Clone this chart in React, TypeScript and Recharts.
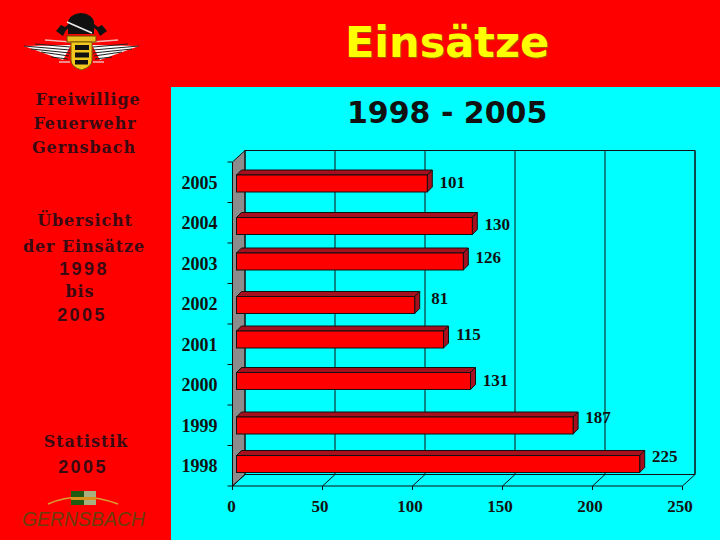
import React from 'react'
import { BarChart, Bar, XAxis, YAxis, LabelList, usePlotArea } from 'recharts'

// Bars and printed numbers differ in the source slide (2005, 2002), so both are kept
const YEARS = ['2005', '2004', '2003', '2002', '2001', '2000', '1999', '1998']
const BAR_VALUES = [106, 131, 126, 99, 115, 130, 187, 224]
const PRINTED_VALUES = [101, 130, 126, 81, 115, 131, 187, 225]
const X_TICKS = [0, 50, 100, 150, 200, 250]

// The slide was nudged by hand: vertical shift in px per row
const BAR_SHIFT = [1, 3, -2, 1, -5, -4, 0, -2]
const LABEL_SHIFT = [0, 1, -6, -6, -10, -5, -8, -10]

const DEPTH_X = 12.5
const DEPTH_Y = 11.5
const BAR_DX = 4
const SERIF = '"Liberation Serif", serif'
const WIDE_SERIF = '"DejaVu Serif", serif'
const WIDE_SANS = '"DejaVu Sans", sans-serif'
const SANS = '"Liberation Sans", sans-serif'

const data = YEARS.map((year, i) => ({ year, value: BAR_VALUES[i], printed: PRINTED_VALUES[i] }))

function Frame() {
  const plot = usePlotArea()
  if (!plot) return null
  const { x, y, width, height } = plot
  const bottom = y + height
  const right = x + width
  const backLeft = x + DEPTH_X
  const backRight = right + DEPTH_X
  const backBottom = bottom - DEPTH_Y
  const backTop = y - DEPTH_Y
  const band = height / YEARS.length
  return (
    <g>
      <polygon
        points={`${x},${y} ${backLeft},${backTop} ${backLeft},${backBottom} ${x},${bottom}`}
        fill="#8c8c8c"
        stroke="#111"
      />
      <polyline
        points={`${backLeft},${backTop} ${backRight},${backTop} ${backRight},${backBottom} ${backLeft},${backBottom}`}
        fill="none"
        stroke="#111"
      />
      {X_TICKS.map(t => {
        const px = x + (width * t) / 250
        return (
          <g key={t} stroke="#111" fill="none">
            <line x1={px + DEPTH_X} y1={backTop} x2={px + DEPTH_X} y2={backBottom} />
            <line x1={px} y1={bottom} x2={px + DEPTH_X} y2={backBottom} />
            <line x1={px} y1={bottom} x2={px} y2={bottom + 4} />
          </g>
        )
      })}
      <line x1={x} y1={bottom} x2={right} y2={bottom} stroke="#111" />
      {YEARS.map((_, i) => (
        <line key={i} x1={x - 5} y1={y + band * i} x2={x} y2={y + band * i} stroke="#111" />
      ))}
      <line x1={x - 5} y1={bottom} x2={x} y2={bottom} stroke="#111" />
    </g>
  )
}

function Bar3D(props: any) {
  const { x, y, width, height, index } = props
  const left = x + BAR_DX
  const top = y + BAR_SHIFT[index]
  const right = left + width
  const bot = top + height
  const dx = 5
  const dy = 5
  return (
    <g stroke="#111" strokeWidth={1}>
      <polygon
        points={`${left},${top} ${left + dx},${top - dy} ${right + dx},${top - dy} ${right},${top}`}
        fill="#a50f1e"
      />
      <polygon
        points={`${right},${top} ${right + dx},${top - dy} ${right + dx},${bot - dy} ${right},${bot}`}
        fill="#a50f1e"
      />
      <rect x={left} y={top} width={width} height={height} fill="#ff0000" />
    </g>
  )
}

function PrintedLabel(props: any) {
  const { x, y, width, height, value, index } = props
  return (
    <text
      x={x + width + BAR_DX + 25}
      y={y + height / 2 + LABEL_SHIFT[index]}
      textAnchor="middle"
      dominantBaseline="central"
      fontFamily={SERIF}
      fontWeight="bold"
      fontSize={17}
      fill="#111"
    >
      {value}
    </text>
  )
}

function XTick(props: any) {
  const { x, y, payload, index } = props
  return (
    <text
      x={x - (index ? 2.5 : 1)}
      y={y + 18}
      textAnchor="middle"
      fontFamily={SERIF}
      fontWeight="bold"
      fontSize={17}
      fill="#111"
    >
      {payload.value}
    </text>
  )
}

function SideText({ top, left, children, font = WIDE_SERIF, size = 16, spacing = 0.9 }: any) {
  return (
    <div
      style={{
        position: 'absolute',
        top,
        left,
        width: 170,
        textAlign: 'center',
        whiteSpace: 'nowrap',
        fontFamily: font,
        fontWeight: 'bold',
        fontSize: size,
        lineHeight: '20px',
        letterSpacing: spacing,
        color: '#3a0a12',
      }}
    >
      {children}
    </div>
  )
}

function FireEmblem() {
  return (
    <svg width={170} height={80} style={{ position: 'absolute', left: 0, top: 0 }}>
      {[-1, 1].map(side => (
        <g key={side} transform={side < 0 ? 'translate(163,0) scale(-1,1)' : undefined}>
          <polygon points="92,45 139,46 100,60" fill="#fff" />
          <path d="M93 47 L128 44 M93 50 L139 46 M93 53 L132 49 M94 56 L122 52 M95 59 L112 57" stroke="#222" strokeWidth={1.2} fill="none" />
          <path d="M92 42 L118 40 M93 62 L104 62" stroke="#f5b5b5" strokeWidth={1.5} fill="none" />
        </g>
      ))}
      <line x1={60} y1={33} x2={74} y2={22} stroke="#111" strokeWidth={3} />
      <line x1={103} y1={33} x2={89} y2={22} stroke="#111" strokeWidth={3} />
      <polygon points="56,31 63,36 67,28 61,25" fill="#111" />
      <polygon points="107,31 100,36 96,28 102,25" fill="#111" />
      <ellipse cx={81} cy={23} rx={13} ry={10} fill="#111" />
      <rect x={68} y={24} width={26} height={10} fill="#111" />
      <line x1={67} y1={22} x2={92} y2={33} stroke="#eee" strokeWidth={1.5} />
      <rect x={67} y={36} width={29} height={6} fill="#e8c020" stroke="#6b4a00" />
      <path d="M71 42 H92 V60 Q92 67 81.5 70 Q71 67 71 60 Z" fill="#f2c81e" stroke="#7a5a00" />
      <rect x={75} y={45} width={14} height={5} fill="#111" />
      <rect x={75} y={52.5} width={14} height={5} fill="#111" />
      <rect x={75} y={60} width={13} height={4.5} fill="#111" />
    </svg>
  )
}

function CityLogo() {
  return (
    <svg width={170} height={60} style={{ position: 'absolute', left: 0, top: 480 }}>
      <path d="M48 24 Q80 10 118 24" fill="none" stroke="#d8a030" strokeWidth={1.5} />
      <rect x={71} y={11} width={13} height={14} fill="#1f5a12" />
      <rect x={84} y={11} width={12} height={14} fill="#a8b080" />
      <rect x={71} y={17} width={25} height={3} fill="#d8901c" />
      <text
        x={22}
        y={46}
        fontFamily={SANS}
        fontStyle="italic"
        fontSize={21}
        textLength={123}
        lengthAdjust="spacingAndGlyphs"
        fill="#6d3c0c"
      >
        GERNSBACH
      </text>
    </svg>
  )
}

export default function App() {
  return (
    <div style={{ position: 'absolute', left: 0, top: 0, width: 720, height: 540, background: '#ff0000', overflow: 'hidden' }}>
      <div style={{ position: 'absolute', left: 171, top: 87, width: 549, height: 453, background: '#00ffff' }} />
      <FireEmblem />
      <CityLogo />

      <div
        style={{
          position: 'absolute',
          left: 345,
          top: 16,
          whiteSpace: 'nowrap',
          fontFamily: WIDE_SANS,
          fontWeight: 'bold',
          fontSize: 43,
          lineHeight: '52px',
          color: '#ffff00',
          textShadow: '1px 1px 1px #a06000',
        }}
      >
        Einsätze
      </div>
      <div
        style={{
          position: 'absolute',
          left: 347,
          top: 94,
          whiteSpace: 'nowrap',
          fontFamily: WIDE_SANS,
          fontWeight: 'bold',
          fontSize: 30,
          lineHeight: '38px',
          color: '#111',
        }}
      >
        1998 - 2005
      </div>

      <SideText top={90} left={3}>Freiwillige</SideText>
      <SideText top={114} left={0}>Feuerwehr</SideText>
      <SideText top={138} left={-1}>Gernsbach</SideText>

      <SideText top={211} left={0}>Übersicht</SideText>
      <SideText top={237} left={-1}>der Einsätze</SideText>
      <SideText top={259} left={-1} font={SANS} size={18} spacing={2.4}>1998</SideText>
      <SideText top={282} left={-5}>bis</SideText>
      <SideText top={305} left={-3} font={SANS} size={18} spacing={2.4}>2005</SideText>

      <SideText top={432} left={1}>Statistik</SideText>
      <SideText top={457} left={-2} font={SANS} size={18} spacing={2.4}>2005</SideText>

      <div style={{ position: 'absolute', left: 0, top: 0 }}>
        <BarChart
          width={720}
          height={540}
          data={data}
          layout="vertical"
          barSize={17}
          margin={{ top: 162, right: 37.5, bottom: 0, left: 171 }}
        >
          <Frame />
          <XAxis
            type="number"
            domain={[0, 250]}
            ticks={X_TICKS}
            interval={0}
            height={54}
            axisLine={false}
            tickLine={false}
            tick={<XTick />}
          />
          <YAxis
            type="category"
            dataKey="year"
            width={61.5}
            axisLine={false}
            tickLine={false}
            tickMargin={9}
            tick={{ fontFamily: SERIF, fontWeight: 'bold', fontSize: 18, fill: '#111' }}
          />
          <Bar dataKey="value" shape={<Bar3D />} isAnimationActive={false}>
            <LabelList dataKey="printed" content={<PrintedLabel />} />
          </Bar>
        </BarChart>
      </div>
    </div>
  )
}
